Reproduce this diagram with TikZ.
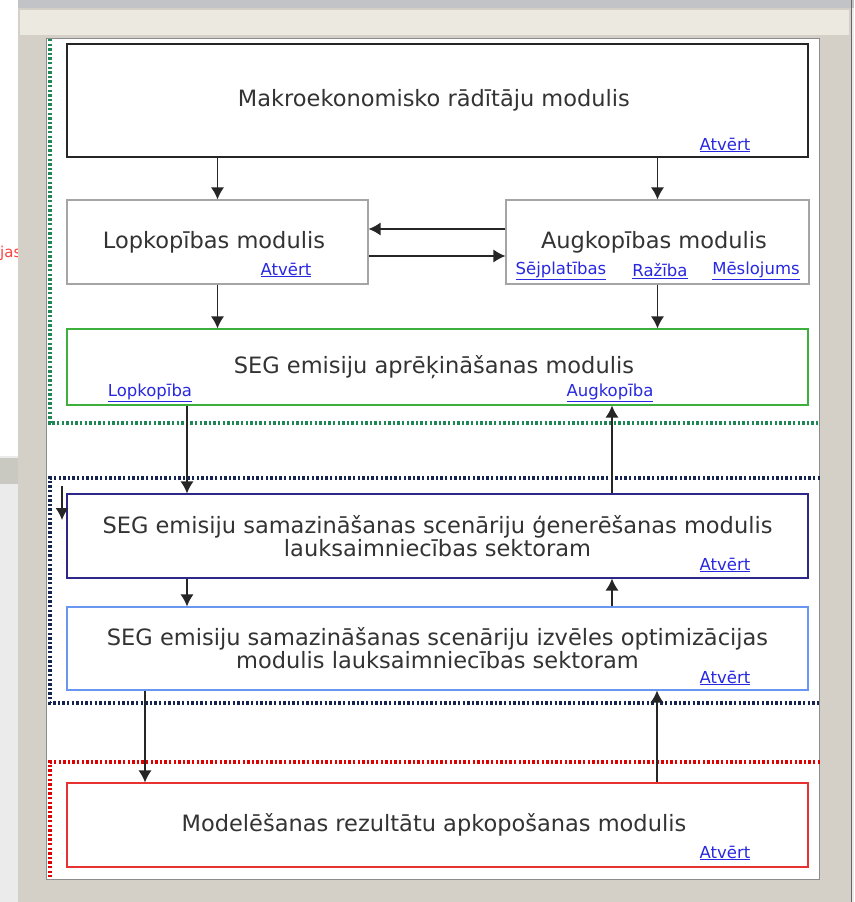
\documentclass[tikz,border=0pt]{standalone}
\usepackage{fontspec}
\setmainfont{DejaVu Sans}
\usetikzlibrary{arrows.meta}

\definecolor{txtgray}{RGB}{51,51,51}
\definecolor{linkblue}{RGB}{40,40,225}
\definecolor{boxgray}{RGB}{165,165,165}
\definecolor{boxgreen}{RGB}{60,175,60}
\definecolor{boxnavy}{RGB}{45,40,135}
\definecolor{boxsky}{RGB}{105,150,240}
\definecolor{boxred}{RGB}{232,50,50}
\definecolor{dotgreen}{RGB}{30,135,85}
\definecolor{dotnavy}{RGB}{20,35,80}
\definecolor{dotred}{RGB}{225,0,0}
\definecolor{framegray}{RGB}{212,208,200}
\definecolor{framelight}{RGB}{236,233,224}
\definecolor{topgray}{RGB}{194,195,199}
\definecolor{bargray}{RGB}{201,200,193}

\tikzset{
  modbox/.style={shape=rectangle, draw, align=center, fill=white, text=txtgray,
    font=\fontsize{22.5}{23}\selectfont, inner sep=0pt, line width=1.1pt},
  linktext/.style={text=linkblue, font=\fontsize{16.5}{18}\selectfont, inner sep=0pt},
  flow/.style={-{Latex[length=12pt,width=13pt]}, line width=1.3pt, draw=black!85},
  zone/.style={line width=3.2pt, dash pattern=on 2.4pt off 2.2pt},
}

\begin{document}
\begin{tikzpicture}[x=1pt, y=-1pt]
			\useasboundingbox (0,0) rectangle (854,902);
			\fill[black!8] (0,0) rectangle (854,902);
			\fill[white] (0,0) rectangle (18,456);
			\fill[bargray] (0,458) rectangle (18,484);
			
			\node (j1)[anchor=west, text=red!75, font=\fontsize{15}{17}\selectfont, inner sep=0pt] 
			at (0,253) {jas};
			
			\fill[topgray] (18,0) rectangle (854,8);
			\fill[framegray] (18,8) rectangle (851,902);
			\fill[framelight] (20,10) rectangle (849,35);
			\draw[black!60] (851,0) -- (851,902);
			\fill[white, draw=black!45, line width=1pt] (46,38) rectangle (819,879);
			
			\draw[zone, dotgreen] (50,39) -- (50,423) -- (820,423);
			\draw[zone, dotnavy] (820,478) -- (50,478) -- (50,703) -- (820,703);
			\draw[zone, dotred] (820,762) -- (50,762) -- (50,877);
			
			\node (z1)[modbox, draw=black!85, minimum width=741pt, minimum height=113pt] 
			at (437.5,100.5) {
				Makroekonomisko rādītāju modulis
			};
			
			\node (z2)[modbox, draw=boxgray, minimum width=301pt, minimum height=84pt] 
			at (217.5,242) {
				Lopkopības modulis
			};
			
			\node (z3)[modbox, draw=boxgray, minimum width=303pt, minimum height=84pt] 
			at (657.5,242) {
				Augkopības modulis
			};
			
			\node (z4)[modbox, draw=boxgreen, minimum width=741pt, minimum height=76pt] 
			at (437.5,367) {
				SEG emisiju aprēķināšanas modulis
			};
			
			\node (z5)[modbox, draw=boxnavy, minimum width=741pt, minimum height=84pt] 
			at (437.5,536) {
				SEG emisiju samazināšanas scenāriju ģenerēšanas modulis \\
				lauksaimniecības sektoram
			};
			
			\node (z6)[modbox, draw=boxsky, minimum width=741pt, minimum height=83pt] 
			at (437.5,648.5) {
				SEG emisiju samazināšanas scenāriju izvēles optimizācijas \\
				modulis lauksaimniecības sektoram
			};
			
			\node (z7)[modbox, draw=boxred, minimum width=741pt, minimum height=84pt] 
			at (437.5,825) {
				Modelēšanas rezultātu apkopošanas modulis
			};
			
			\node (a1)[linktext] at (725,145) {\underline{Atvērt}};
			\node (a2)[linktext] at (286,270) {\underline{Atvērt}};
			\node (a3)[linktext] at (561,271) {\underline{Sējplatības}};
			\node (a4)[linktext] at (660,271) {\underline{Ražība}};
			\node (a5)[linktext] at (756,271) {\underline{Mēslojums}};
			\node (a6)[linktext] at (150,393) {\underline{Lopkopība}};
			\node (a7)[linktext] at (610,393) {\underline{Augkopība}};
			\node (a8)[linktext] at (725,565) {\underline{Atvērt}};
			\node (a9)[linktext] at (725,678) {\underline{Atvērt}};
			\node (a10)[linktext] at (725,853) {\underline{Atvērt}};
			
			\coordinate (s1) at (62,486);
			\coordinate (s2) at (62,520);
			
			\draw[flow] (z1.south -| z2.north) -- (z2.north);
			\draw[flow] (z1.south -| z3.north) -- (z3.north);
			\draw[flow] ([yshift=13pt]z3.west) -- ([yshift=13pt]z2.east);
			\draw[flow] ([yshift=-14pt]z2.east) -- ([yshift=-14pt]z3.west);
			\draw[flow] (z2.south) -- (z2.south |- z4.north);
			\draw[flow] (z3.south) -- (z3.south |- z4.north);
			\draw[flow] ([xshift=-250.5pt]z4.south) -- ([xshift=-250.5pt]z5.north);
			\draw[flow] ([xshift=174.5pt]z5.north) -- ([xshift=174.5pt]z4.south);
			\draw[flow] (s1) -- (s2);
			\draw[flow] ([xshift=-250.5pt]z5.south) -- ([xshift=-250.5pt]z6.north);
			\draw[flow] ([xshift=174.5pt]z6.north) -- ([xshift=174.5pt]z5.south);
			\draw[flow] ([xshift=-292.5pt]z6.south) -- ([xshift=-292.5pt]z7.north);
			\draw[flow] ([xshift=219.5pt]z7.north) -- ([xshift=219.5pt]z6.south);
		\end{tikzpicture}
\end{document}
